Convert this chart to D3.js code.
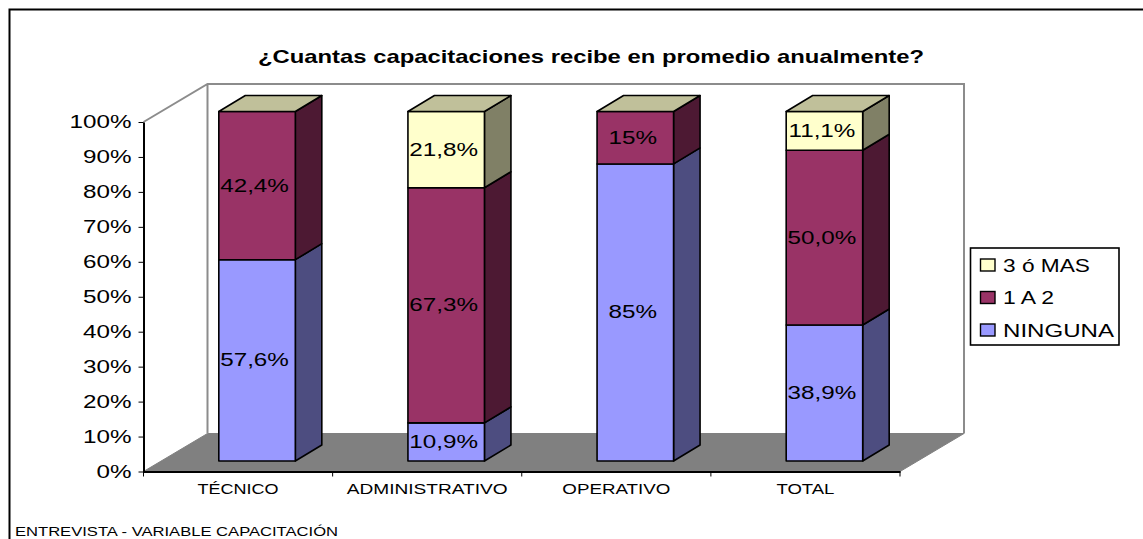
<!DOCTYPE html>
<html><head><meta charset="utf-8">
<script src="https://cdn.jsdelivr.net/npm/d3@7"></script>
<style>html,body{margin:0;padding:0;background:#fff}svg{display:block}text{font-family:"Liberation Sans",Arial,sans-serif;fill:#000}</style>
</head><body><svg id="c" width="1143" height="539"></svg>
<script>
const categories = ["TÉCNICO","ADMINISTRATIVO","OPERATIVO","TOTAL"];
const seriesNames = ["NINGUNA","1 A 2","3 ó MAS"];
const ninguna = [57.6,10.9,85,38.9];
const unoADos = [42.4,67.3,15,50.0];
const tresOMas = [0,21.8,0,11.1];
const labelNinguna = ["57,6%","10,9%","85%","38,9%"];
const labelUnoADos = ["42,4%","67,3%","15%","50,0%"];
const labelTres = ["","21,8%","","11,1%"];
const yTicks = [0,10,20,30,40,50,60,70,80,90,100];
const titleText = "¿Cuantas capacitaciones recibe en promedio anualmente?";
const footText = "ENTREVISTA - VARIABLE CAPACITACIÓN";

const front = ["#9999ff","#993366","#ffffcc"];
const side = ["#4d4d80","#4d1933","#808066"];
const topFill = "#c0c09a";
const catWidths = [81,161,108,58];
const legWidths = [111,51,87];

const svg = d3.select("#c");
const x = d3.scaleBand().domain(categories).range([143.5,900]);
const y = d3.scaleLinear().domain([0,100]).range([471.5,122]);
const wallD = {dx:64,dy:-38};
const barD = {dx:26.5,dy:-16};
const barShift = {dx:19,dy:-10.5};
const barW = 76.5;

// stretch text horizontally to a set width (the original is wide-set)
function stretch(sel,w){sel.attr("lengthAdjust","spacingAndGlyphs").attr("textLength",w);return sel;}
function widen(sel,f){sel.each(function(){const t=d3.select(this);t.attr("lengthAdjust","spacingAndGlyphs").attr("textLength",this.getComputedTextLength()*f);});return sel;}

// chart border: only top and left edges are visible
svg.append("path").attr("d","M9.5,539V9.5H1143").attr("fill","none").attr("stroke","#000").attr("stroke-width",2);

// walls
const [xl,xr]=x.range(), y0=y(0), y1=y(100);
svg.append("path").attr("fill","#808080").attr("stroke","#808080")
 .attr("d",`M${xl},${y0}L${xl+wallD.dx},${y0+wallD.dy}H${xr+wallD.dx}L${xr},${y0}Z`);
svg.append("path").attr("fill","none").attr("stroke","#8c8c8c").attr("stroke-width",2)
 .attr("d",`M${xl},${y1}L${xl+wallD.dx},${y1+wallD.dy}H${xr+wallD.dx}V${y0+wallD.dy}M${xl+wallD.dx},${y1+wallD.dy}V${y0+wallD.dy}`);

// axes
const ax = svg.append("g").attr("transform",`translate(${xl},0)`)
 .call(d3.axisLeft(y).tickValues(yTicks).tickSize(5).tickSizeOuter(0).tickPadding(7).tickFormat(d=>d+"%"));
ax.selectAll("text").style("font-size","18.5px");
widen(ax.selectAll("text"),1.31);
const bx = svg.append("g").attr("transform",`translate(0,${y0})`)
 .call(d3.axisBottom(x).tickSize(0).tickPadding(0));
bx.selectAll("text").attr("y",22.5).attr("dy",null).style("font-size","15px")
  .each(function(d,i){stretch(d3.select(this),catWidths[i]);});
bx.selectAll(".tick").append("line").attr("x1",-x.bandwidth()/2).attr("x2",-x.bandwidth()/2).attr("y2",5).attr("stroke","#000");
bx.append("line").attr("x1",xr).attr("x2",xr).attr("y2",5).attr("stroke","#000");
svg.selectAll(".domain").attr("stroke","#000").attr("stroke-width",2);

// bars
const seriesVals=[ninguna,unoADos,tresOMas], seriesLab=[labelNinguna,labelUnoADos,labelTres];
const line={stroke:"#000","stroke-width":1.6,"stroke-linejoin":"round"};
function st(s){for(const k in line)s.attr(k,line[k]);return s;}
categories.forEach((c,i)=>{
  const left=x(c)+(x.bandwidth()-barW)/2+barShift.dx;
  const right=left+barW;
  let cum=0;
  const segs=[];
  seriesVals.forEach((v,s)=>{ if(v[i]>0){segs.push({s,a:cum,b:cum+v[i],lab:seriesLab[s][i]});cum+=v[i];}});
  const g=svg.append("g");
  segs.forEach((d,k)=>{
    const ya=y(d.a)+barShift.dy,yb=y(Math.min(d.b,100))+barShift.dy;
    st(g.append("path")).attr("fill",side[d.s])
      .attr("d",`M${right},${ya}L${right+barD.dx},${ya+barD.dy}V${yb+barD.dy}L${right},${yb}Z`);
    st(g.append("rect")).attr("fill",front[d.s]).attr("x",left).attr("y",yb).attr("width",barW).attr("height",ya-yb);
    if(k===segs.length-1){
      st(g.append("path")).attr("fill",topFill)
       .attr("d",`M${left},${yb}L${left+barD.dx},${yb+barD.dy}H${right+barD.dx}L${right},${yb}Z`);
    }
    const t=g.append("text").attr("x",(left+right)/2-2.5).attr("y",(ya+yb)/2+6).attr("text-anchor","middle")
      .style("font-size","18.5px").text(d.lab);
    widen(t,1.31);
  });
});

// title & footer
stretch(svg.append("text").attr("x",591).attr("y",63).attr("text-anchor","middle").style("font-size","18.5px").style("font-weight","bold").text(titleText),666);
stretch(svg.append("text").attr("x",15).attr("y",536).style("font-size","13px").text(footText),323);

// legend
const lg=svg.append("g");
lg.append("rect").attr("x",970.5).attr("y",248).attr("width",148.5).attr("height",97).attr("fill","#fff").attr("stroke","#000").attr("stroke-width",1.6);
const legY=d3.scalePoint().domain(seriesNames.slice().reverse()).range([265,330]);
seriesNames.forEach((n,i)=>{
  lg.append("rect").attr("x",980.5).attr("y",legY(n)-6).attr("width",14.5).attr("height",12).attr("fill",front[i]).attr("stroke","#000").attr("stroke-width",1.4);
  stretch(lg.append("text").attr("x",1003).attr("y",legY(n)+6.5).style("font-size","18.5px").text(n),legWidths[i]);
});
</script></body></html>
